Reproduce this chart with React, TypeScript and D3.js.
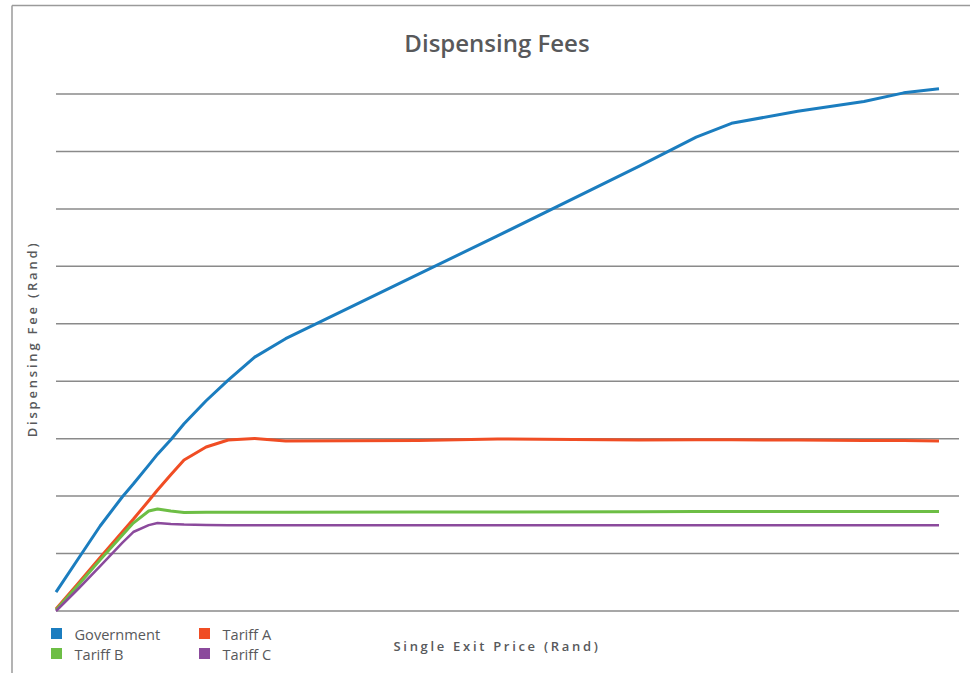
import React from "react";
import * as d3 from "d3";

// Single exit price (relative position along axis, 0..100)
const xValues = [0, 2.5, 5, 7.5, 8.75, 10.5, 11.5, 13, 14.5, 17, 19.5, 22.5, 26, 41, 50, 66, 72.5, 76.5, 84, 91.5, 96, 100];

const government = [3.3, 9.05, 14.8, 19.85, 22.1, 25.4, 27.3, 29.8, 32.6, 36.6, 40.2, 44.2, 47.4, 58.6, 65.3, 77.4, 82.5, 84.9, 87.0, 88.7, 90.2, 90.9];
const tariffA = [0.35, 4.8, 9.3, 13.75, 15.96, 19.2, 21.07, 23.7, 26.3, 28.55, 29.77, 30.03, 29.6, 29.7, 29.95, 29.77, 29.8, 29.8, 29.75, 29.7, 29.7, 29.6];
const tariffB = [0.17, 4.5, 8.9, 13.2, 15.3, 17.4, 17.76, 17.4, 17.15, 17.18, 17.18, 17.2, 17.2, 17.22, 17.25, 17.28, 17.3, 17.3, 17.3, 17.3, 17.3, 17.3];
const tariffC = [0, 3.83, 7.83, 11.84, 13.75, 14.95, 15.32, 15.15, 15.04, 14.97, 14.92, 14.92, 14.92, 14.92, 14.92, 14.92, 14.92, 14.92, 14.92, 14.92, 14.92, 14.92];

const seriesNames = ["Government", "Tariff A", "Tariff B", "Tariff C"];
const seriesColors = ["#1b7dbf", "#f04d24", "#6dbe45", "#8b4a9c"];
const seriesWidths = [3, 3, 3, 2.5];
const gridTicks = [0, 10, 20, 30, 40, 50, 60, 70, 80, 90];

const W = 970;
const H = 673;
const TEXT = "#58595b";

export default function App() {
  const x = d3.scaleLinear().domain([0, 100]).range([56, 939]);
  const y = d3.scaleLinear().domain([0, 90]).range([611, 94]);
  const gridRight = 959;
  const allSeries = [government, tariffA, tariffB, tariffC];
  const line = d3
    .line<number>()
    .x((_, i) => x(xValues[i]))
    .y((d) => y(d));

  const legendPos = [
    [51, 628],
    [199, 628],
    [51, 648],
    [199, 648],
  ];

  return (
    <div style={{ position: "absolute", left: 0, top: 0 }}>
      <svg width={W} height={H} style={{ display: "block", background: "#fff" }}>
        {/* frame */}
        <line x1={12} y1={5.5} x2={W + 5} y2={5.5} stroke="#9a9a9a" strokeWidth={1.5} />
        <line x1={12} y1={5.5} x2={12} y2={H + 5} stroke="#9a9a9a" strokeWidth={1.5} />

        <text
          x={497}
          y={52}
          textAnchor="middle"
          fontFamily="'Open Sans', sans-serif"
          fontWeight={600}
          fontSize={24}
          fill={TEXT}
        >
          Dispensing Fees
        </text>

        {gridTicks.map((t) => (
          <line
            key={t}
            x1={x(0)}
            x2={gridRight}
            y1={y(t)}
            y2={y(t)}
            stroke="#8a8a8a"
            strokeWidth={1.5}
          />
        ))}

        {allSeries.map((s, i) => (
          <path
            key={i}
            d={line(s) || ""}
            fill="none"
            stroke={seriesColors[i]}
            strokeWidth={seriesWidths[i]}
            strokeLinejoin="round"
          />
        ))}

        <text
          transform={`translate(37, ${339}) rotate(-90)`}
          textAnchor="middle"
          fontFamily="'Open Sans', sans-serif"
          fontWeight={600}
          fontSize={13}
          letterSpacing={2.8}
          fill={TEXT}
        >
          Dispensing Fee (Rand)
        </text>

        <text
          x={497}
          y={651}
          textAnchor="middle"
          fontFamily="'Open Sans', sans-serif"
          fontWeight={600}
          fontSize={13}
          letterSpacing={2.7}
          fill={TEXT}
        >
          Single Exit Price (Rand)
        </text>

        {seriesNames.map((name, si) => (
          <g key={si} transform={`translate(${legendPos[si][0]}, ${legendPos[si][1]})`}>
            <rect x={0} y={0} width={11} height={11} fill={seriesColors[si]} />
            <text
              x={23.5}
              y={11.5}
              fontFamily="'Open Sans', sans-serif"
              fontSize={14.6}
              fill={TEXT}
            >
              {name}
            </text>
          </g>
        ))}
      </svg>
    </div>
  );
}
